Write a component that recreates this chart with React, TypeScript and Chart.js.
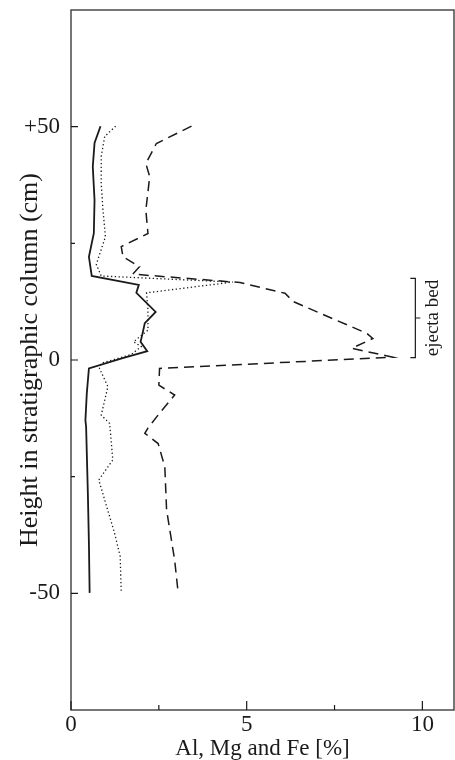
import React, { useEffect, useRef } from "react";
import { Chart, registerables } from "chart.js";

Chart.register(...registerables);

const SERIF = '"Liberation Serif", "Times New Roman", "DejaVu Serif", serif';

// Solid line
const solidHeights = [50.1, 46.5, 41.4, 34.3, 27.2, 22.1, 18.0, 16.1, 14.4, 10.3, 7.9, 5.8, 3.9, 1.9, 0.4, -1.8, -7.1, -12.9, -14.3, -28.6, -39.3, -49.9];
const solidValues = [0.84, 0.67, 0.62, 0.67, 0.65, 0.51, 0.59, 1.93, 1.86, 2.41, 2.1, 2.04, 1.98, 2.17, 1.47, 0.51, 0.45, 0.41, 0.43, 0.48, 0.51, 0.53];

// Dotted line
const dottedHeights = [50.1, 47.9, 43.6, 37.9, 32.1, 26.4, 20.5, 18.0, 16.7, 14.4, 10.7, 6.4, 3.9, 2.9, 1.2, -0.7, -1.8, -5.7, -11.8, -13.6, -21.4, -25.7, -37.1, -42.1, -49.9];
const dottedValues = [1.27, 0.96, 0.86, 0.86, 0.91, 0.98, 0.72, 0.86, 4.61, 2.15, 2.19, 2.19, 1.78, 2.0, 1.72, 0.86, 0.81, 1.05, 0.86, 1.1, 1.19, 0.79, 1.24, 1.4, 1.43];

// Dashed line
const dashedHeights = [50.1, 46.4, 42.1, 39.3, 32.1, 27.1, 24.3, 22.1, 20.0, 18.4, 16.6, 14.3, 12.5, 5.7, 4.6, 2.5, 0.6, -1.8, -5.4, -7.5, -11.4, -14.6, -15.7, -17.9, -22.9, -32.1, -42.9, -49.9];
const dashedValues = [3.43, 2.43, 2.13, 2.24, 2.13, 2.19, 1.43, 1.48, 1.95, 1.76, 4.81, 6.09, 6.33, 8.42, 8.59, 7.99, 9.16, 2.52, 2.5, 2.95, 2.52, 2.19, 2.1, 2.48, 2.67, 2.72, 2.95, 3.05];

const xTickValues = [0, 5, 10];
const xMinorTicks = [2.5, 7.5];
const yTickValues = [-50, 0, 50];
const yMinorTicks = [-25, 25];

const ejectaBottom = 0.5;
const ejectaTop = 17.5;
const ejectaMid = 9;
const ejectaX = 9.8;
const ejectaLabel = "ejecta bed";

const xTitle = "Al, Mg and Fe [%]";
const yTitle = "Height in stratigraphic column (cm)";

const INK = "#1a1a1a";
const FRAME = "#4a4a4a";

const framePlugin = {
  id: "frameAndTicks",
  afterDraw(chart: any) {
    const { ctx, chartArea, scales } = chart;
    const { left, right, top, bottom } = chartArea;
    const xs = scales.x;
    const ys = scales.y;
    ctx.save();
    ctx.strokeStyle = FRAME;
    ctx.lineWidth = 1.5;
    ctx.strokeRect(left, top, right - left, bottom - top);

    ctx.strokeStyle = INK;
    ctx.lineWidth = 1.2;
    ctx.beginPath();
    for (const v of xTickValues) {
      const px = xs.getPixelForValue(v);
      ctx.moveTo(px, bottom);
      ctx.lineTo(px, bottom - 9);
    }
    for (const v of xMinorTicks) {
      const px = xs.getPixelForValue(v);
      ctx.moveTo(px, bottom);
      ctx.lineTo(px, bottom - 5);
    }
    for (const v of yTickValues) {
      const py = ys.getPixelForValue(v);
      ctx.moveTo(left, py);
      ctx.lineTo(left + 7, py);
    }
    for (const v of yMinorTicks) {
      const py = ys.getPixelForValue(v);
      ctx.moveTo(left, py);
      ctx.lineTo(left + 4, py);
    }
    ctx.stroke();

    // ejecta bed bracket
    const bx = xs.getPixelForValue(ejectaX);
    const byTop = ys.getPixelForValue(ejectaTop);
    const byBot = ys.getPixelForValue(ejectaBottom);
    const byMid = ys.getPixelForValue(ejectaMid);
    ctx.beginPath();
    ctx.moveTo(bx - 5, byTop);
    ctx.lineTo(bx, byTop);
    ctx.lineTo(bx, byBot);
    ctx.lineTo(bx - 5, byBot);
    ctx.moveTo(bx, byMid);
    ctx.lineTo(bx + 5, byMid);
    ctx.stroke();

    ctx.translate(bx + 18, (byTop + byBot) / 2);
    ctx.rotate(-Math.PI / 2);
    ctx.fillStyle = INK;
    ctx.font = `19px ${SERIF}`;
    ctx.textAlign = "center";
    ctx.textBaseline = "middle";
    ctx.fillText(ejectaLabel, 0, 0);
    ctx.restore();
  },
};

function toPoints(heights: number[], values: number[]) {
  return heights.map((h, i) => ({ x: values[i], y: h }));
}

function zeroPadding(s: any) {
  s.paddingTop = 0;
  s.paddingBottom = 0;
  s.paddingLeft = 0;
  s.paddingRight = 0;
}

export default function App() {
  const canvasRef = useRef<HTMLCanvasElement | null>(null);

  useEffect(() => {
    const canvas = canvasRef.current;
    if (!canvas) return;
    const chart = new Chart(canvas, {
      type: "line",
      data: {
        datasets: [
          {
            label: "solid",
            data: toPoints(solidHeights, solidValues),
            borderColor: INK,
            borderWidth: 1.8,
            pointRadius: 0,
            tension: 0,
            fill: false,
          },
          {
            label: "dotted",
            data: toPoints(dottedHeights, dottedValues),
            borderColor: INK,
            borderWidth: 1.3,
            borderDash: [1.3, 2.5],
            pointRadius: 0,
            tension: 0,
            fill: false,
          },
          {
            label: "dashed",
            data: toPoints(dashedHeights, dashedValues),
            borderColor: INK,
            borderWidth: 1.5,
            borderDash: [10, 6],
            pointRadius: 0,
            tension: 0,
            fill: false,
          },
        ],
      },
      options: {
        animation: false,
        responsive: false,
        devicePixelRatio: 1,
        layout: { padding: { top: 10, right: 1, left: 0, bottom: 0 } },
        plugins: { legend: { display: false }, tooltip: { enabled: false } },
        scales: {
          x: {
            type: "linear",
            min: 0,
            max: 10.9,
            grid: { display: false, drawTicks: false },
            border: { display: false },
            afterBuildTicks: (s: any) => {
              s.ticks = xTickValues.map((v) => ({ value: v }));
            },
            afterFit: (s: any) => {
              s.height = 50;
              zeroPadding(s);
            },
            ticks: {
              font: { family: SERIF, size: 23, lineHeight: 1 },
              color: INK,
              padding: 3,
              maxRotation: 0,
              autoSkip: false,
            },
            title: {
              display: true,
              text: xTitle,
              font: { family: SERIF, size: 23, lineHeight: 1 },
              color: INK,
              padding: { top: 0, bottom: 0 },
            },
          },
          y: {
            type: "linear",
            min: -75,
            max: 75,
            grid: { display: false, drawTicks: false },
            border: { display: false },
            afterBuildTicks: (s: any) => {
              s.ticks = yTickValues.map((v) => ({ value: v }));
            },
            afterFit: (s: any) => {
              s.width = 71;
              zeroPadding(s);
            },
            ticks: {
              font: { family: SERIF, size: 23, lineHeight: 1 },
              color: INK,
              padding: 11,
              autoSkip: false,
              callback: (v: any) => (Number(v) > 0 ? "+" + v : String(v)),
            },
            title: {
              display: true,
              text: yTitle,
              font: { family: SERIF, size: 26, lineHeight: 1 },
              color: INK,
              padding: { top: 17, bottom: 0 },
            },
          },
        },
      },
      plugins: [framePlugin],
    } as any);
    return () => chart.destroy();
  }, []);

  return (
    <div style={{ position: "fixed", left: 0, top: 0, width: 455, height: 760, background: "#fff" }}>
      <canvas ref={canvasRef} width={455} height={760} style={{ display: "block" }} />
    </div>
  );
}
